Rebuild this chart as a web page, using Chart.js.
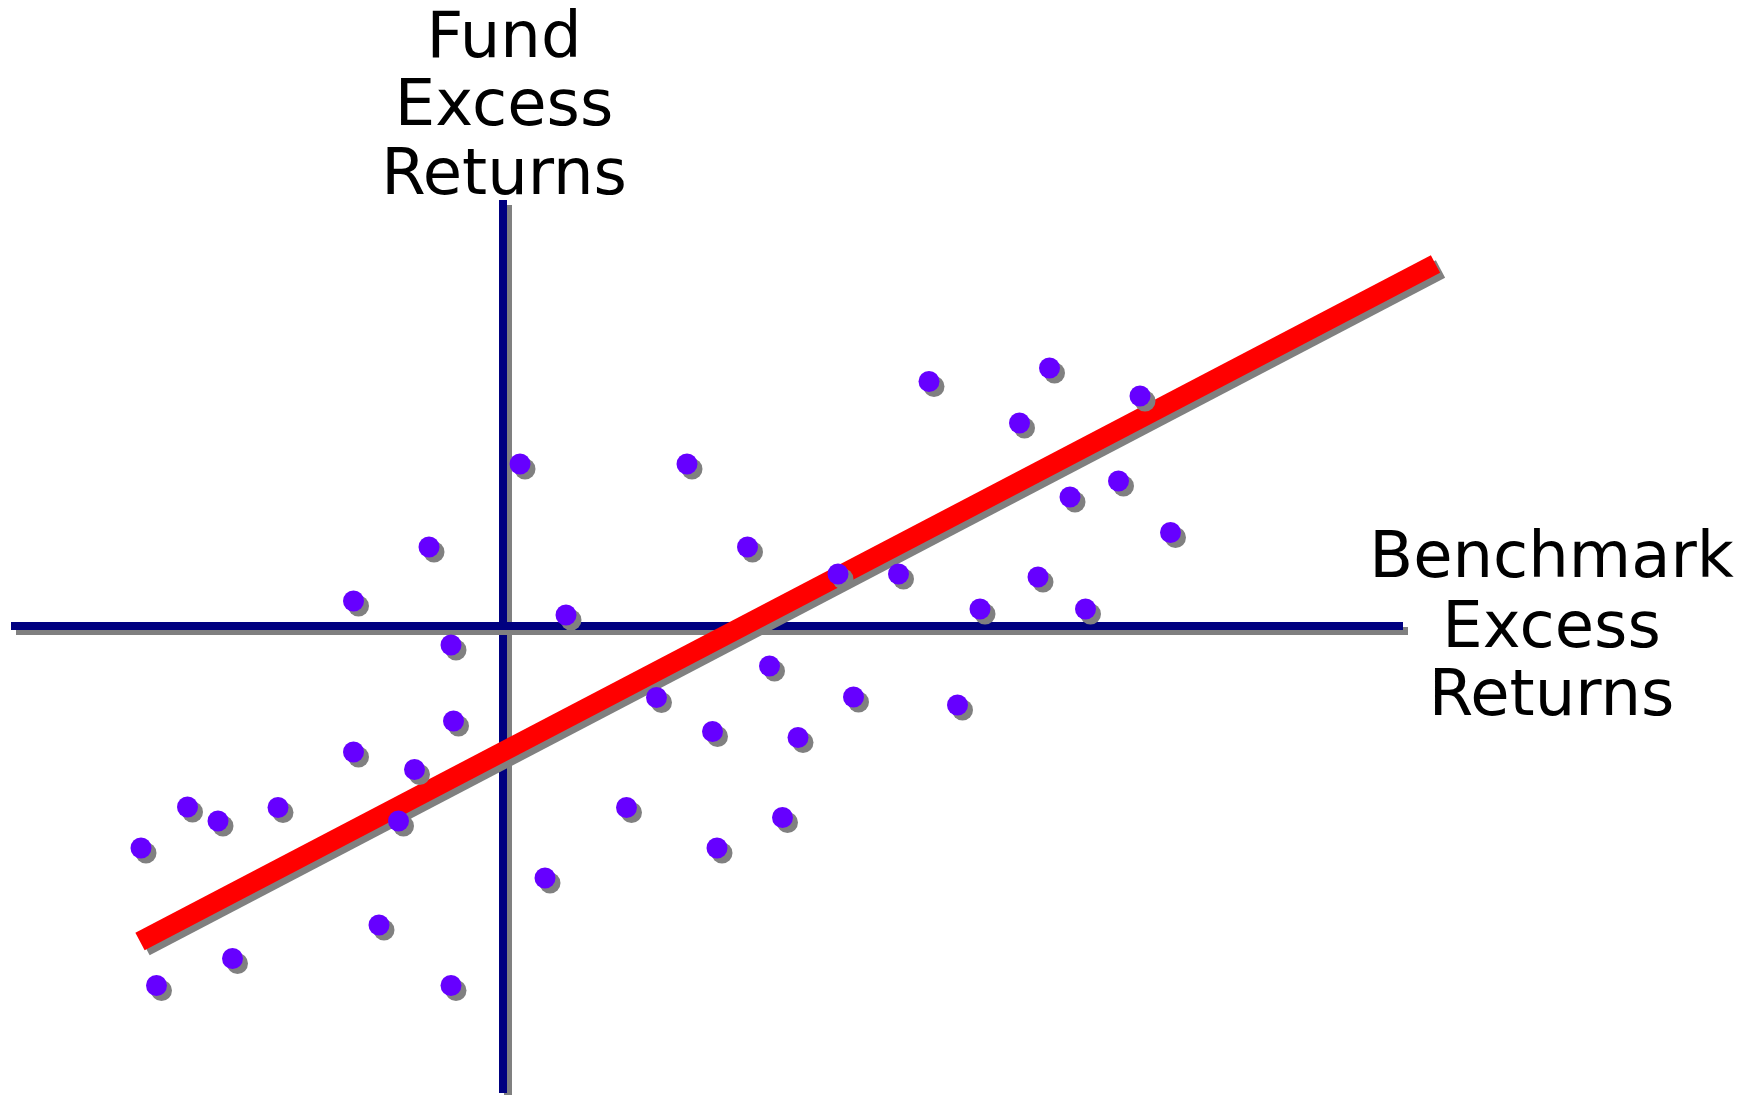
<!DOCTYPE html>
<html>
<head>
<meta charset="utf-8">
<script src="https://cdn.jsdelivr.net/npm/chart.js@4.4.1/dist/chart.umd.min.js"></script>
<style>
html,body{margin:0;padding:0;background:#ffffff;overflow:hidden}
canvas{display:block}
</style>
</head>
<body>
<canvas id="c" width="1754" height="1095"></canvas>
<script>
// Benchmark excess returns (x) and fund excess returns (y)
const benchmarkExcess = [-7.24,-6.93,-6.31,-5.70,-5.41,-4.50,-2.99,-2.99,-2.48,-2.09,-1.77,-1.48,-1.04,-0.99,-1.04,
  0.34,0.84,1.26,2.47,3.07,3.68,4.19,4.28,4.89,5.33,5.59,5.90,6.70,7.01,7.91,8.52,9.09,9.54,10.33,10.70,10.93,11.34,11.65,12.31,12.74,13.35];
const fundExcess = [-4.44,-7.19,-3.62,-3.90,-6.65,-3.63,0.50,-2.52,-5.98,-3.90,-2.87,1.58,-0.38,-1.90,-7.19,
  3.24,-5.04,0.22,-3.63,-1.43,3.24,-2.11,-4.44,1.58,-0.80,-3.83,-2.23,1.04,-1.42,1.04,4.89,-1.58,0.34,4.06,0.98,5.16,2.58,0.34,2.90,4.60,1.87];

// Fitted regression line end points
const fitX = [-7.26, 18.65];
const fitY = [-6.31, 7.24];

// Extent of the drawn zero axes (data units)
const hAxisX = [-9.84, 18.0];
const vAxisY = [-9.34, 8.52];

// Scale ranges
const xRange = [-10.06, 25.02];
const yRange = [-9.38, 12.52];

// Axis titles
const yTitleLines = ['Fund', 'Excess', 'Returns'];
const xTitleLines = ['Benchmark', 'Excess', 'Returns'];

const pts = benchmarkExcess.map((x, i) => ({x: x, y: fundExcess[i]}));
const fitPts = fitX.map((x, i) => ({x: x, y: fitY[i]}));
const hAxisPts = hAxisX.map(x => ({x: x, y: 0}));
const vAxisPts = vAxisY.map(y => ({x: 0, y: y}));

const shadowPlugin = {
  id: 'dropShadow',
  beforeDatasetDraw(chart) {
    const ctx = chart.ctx;
    ctx.save();
    ctx.shadowColor = '#808080';
    ctx.shadowOffsetX = 5;
    ctx.shadowOffsetY = 5;
    ctx.shadowBlur = 0;
  },
  afterDatasetDraw(chart) {
    chart.ctx.restore();
  }
};

const titlePlugin = {
  id: 'axisTitles',
  afterDraw(chart) {
    const ctx = chart.ctx;
    const xs = chart.scales.x;
    ctx.save();
    ctx.font = '64px "DejaVu Sans"';
    ctx.fillStyle = '#000000';
    ctx.textAlign = 'center';
    ctx.textBaseline = 'alphabetic';
    const yx = xs.getPixelForValue(0) + 1;
    const yBase = [57, 125, 194];
    yTitleLines.forEach((t, i) => ctx.fillText(t, yx, yBase[i]));
    const xBase = [576.5, 646.5, 714.5];
    xTitleLines.forEach((t, i) => ctx.fillText(t, 1551.5, xBase[i]));
    ctx.restore();
  }
};

new Chart(document.getElementById('c'), {
  type: 'scatter',
  data: {
    datasets: [
      {
        label: 'Fund vs Benchmark',
        data: pts,
        backgroundColor: '#6600FF',
        borderWidth: 0,
        pointRadius: 10.5,
        pointStyle: 'circle',
        order: 1
      },
      {
        label: 'Fit',
        data: fitPts,
        showLine: true,
        borderColor: '#FF0000',
        borderWidth: 20,
        borderCapStyle: 'butt',
        pointRadius: 0,
        order: 2
      },
      {
        label: 'x axis',
        data: hAxisPts,
        showLine: true,
        borderColor: '#000080',
        borderWidth: 8,
        borderCapStyle: 'butt',
        pointRadius: 0,
        order: 3
      },
      {
        label: 'y axis',
        data: vAxisPts,
        showLine: true,
        borderColor: '#000080',
        borderWidth: 8,
        borderCapStyle: 'butt',
        pointRadius: 0,
        order: 4
      }
    ]
  },
  options: {
    responsive: false,
    devicePixelRatio: 1,
    animation: false,
    events: [],
    layout: {padding: 0, autoPadding: false},
    plugins: {legend: {display: false}, tooltip: {enabled: false}, title: {display: false}},
    scales: {
      x: {type: 'linear', min: xRange[0], max: xRange[1], display: false},
      y: {type: 'linear', min: yRange[0], max: yRange[1], display: false}
    }
  },
  plugins: [shadowPlugin, titlePlugin]
});
</script>
</body>
</html>
